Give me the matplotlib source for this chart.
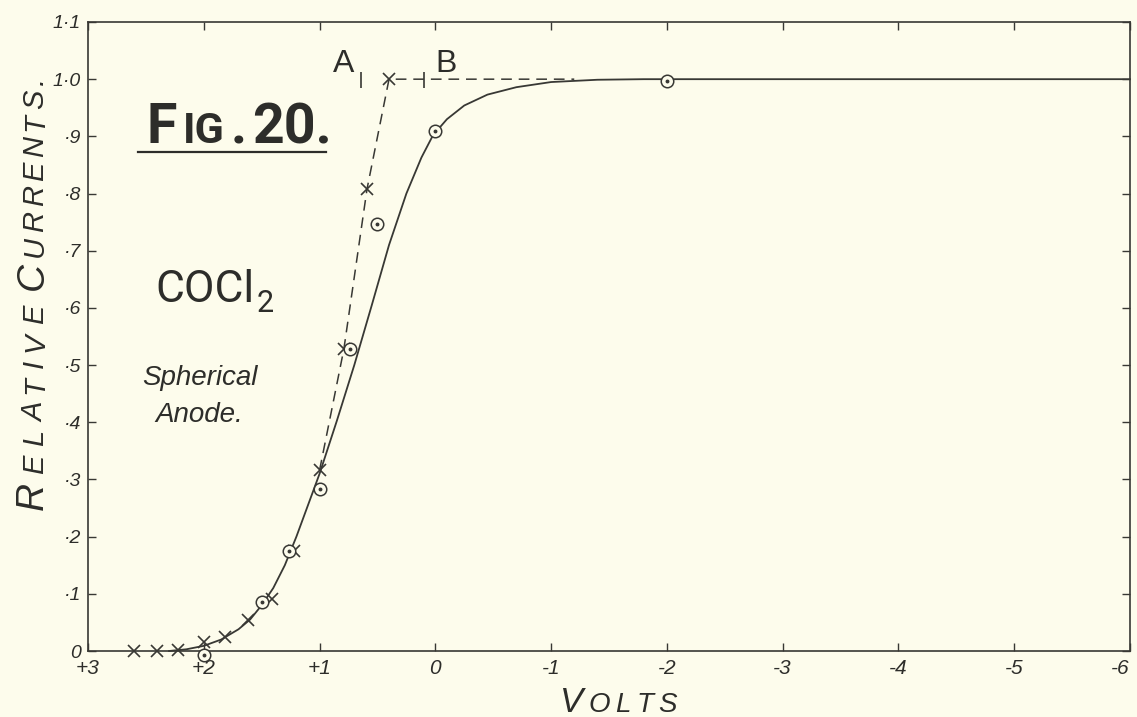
import matplotlib
matplotlib.use("Agg")
import matplotlib.pyplot as plt
from matplotlib.lines import Line2D

# ---------------- data ----------------
volts_cross = [2.6, 2.4, 2.22, 2.0, 1.82, 1.62, 1.41, 1.22, 1.0, 0.79, 0.59, 0.40]
curr_cross = [0.0, 0.0, 0.002, 0.015, 0.025, 0.055, 0.091, 0.175, 0.316, 0.528, 0.808, 1.0]

volts_circle = [2.0, 1.5, 1.26, 1.0, 0.74, 0.5, 0.0, -2.0]
curr_circle = [-0.007, 0.085, 0.175, 0.283, 0.528, 0.747, 0.91, 0.997]

curve_volts = [2.3, 2.15, 2.0, 1.85, 1.7, 1.6, 1.5, 1.4, 1.3, 1.2, 1.1, 1.0, 0.85,
               0.7, 0.55, 0.4, 0.25, 0.12, 0.02, -0.1, -0.25, -0.45, -0.7, -1.0,
               -1.4, -1.8, -6.0]
curve_curr = [0.0, 0.003, 0.009, 0.02, 0.038, 0.055, 0.08, 0.11, 0.15, 0.2, 0.255,
              0.31, 0.403, 0.5, 0.604, 0.71, 0.80, 0.863, 0.902, 0.93, 0.954, 0.973,
              0.986, 0.995, 0.999, 1.0, 1.0]

dash_volts = [1.0, 0.79, 0.59, 0.40, -1.2]
dash_curr = [0.316, 0.528, 0.808, 1.0, 1.0]

mark_volts = [0.64, 0.10]
mark_labels = ["A", "B"]
mark_label_volts = [0.79, -0.095]

x_ticks = [3, 2, 1, 0, -1, -2, -3, -4, -5, -6]
x_ticklabels = ["+3", "+2", "+1", "0", "-1", "-2", "-3", "-4", "-5", "-6"]
y_ticks = [0.0, 0.1, 0.2, 0.3, 0.4, 0.5, 0.6, 0.7, 0.8, 0.9, 1.0, 1.1]
y_ticklabels = ["0", "·1", "·2", "·3", "·4", "·5", "·6", "·7", "·8", "·9", "1·0", "1·1"]

# ---------------- styling ----------------
W, H = 1137, 717
bg = "#fdfcec"
ink = "#2d2d2a"
line_c = "#383834"

fig = plt.figure(figsize=(W / 100, H / 100), dpi=100)
fig.patch.set_facecolor(bg)
ax = fig.add_axes([88 / W, (H - 651) / H, (1130 - 88) / W, (651 - 22) / H])
ax.set_facecolor(bg)
ax.set_xlim(3, -6)
ax.set_ylim(0, 1.1)

for s in ax.spines.values():
    s.set_color(line_c)
    s.set_linewidth(1.2)

ax.set_xticks(x_ticks)
ax.set_xticklabels(x_ticklabels)
ax.set_yticks(y_ticks)
ax.set_yticklabels(y_ticklabels)
ax.tick_params(direction="in", length=6, width=1, color=line_c,
               top=True, right=True, labelcolor=ink)
ax.tick_params(axis="x", pad=6)
ax.tick_params(axis="y", pad=5)
xlabs = ax.get_xticklabels()
for lab in xlabs:
    lab.set_fontfamily(["Liberation Sans", "DejaVu Sans"])
    lab.set_fontstyle("italic")
    lab.set_fontsize(15)
xlabs[-1].set_horizontalalignment("right")
for lab in ax.get_yticklabels():
    lab.set_fontfamily(["Liberation Sans", "DejaVu Sans"])
    lab.set_fontstyle("italic")
    lab.set_fontsize(14)

# curves
ax.plot(curve_volts, curve_curr, color=line_c, lw=1.3, clip_on=False, zorder=3)
ax.plot(dash_volts, dash_curr, color=line_c, lw=1.1, dashes=(7, 4.5), zorder=3)

# markers
ax.plot(volts_cross, curr_cross, ls="none", marker="x", ms=8, mew=1.2,
        color=line_c, clip_on=False, zorder=4)
ax.plot(volts_circle, curr_circle, ls="none", marker="o", ms=9, mew=1.1,
        mfc=bg, mec=line_c, clip_on=False, zorder=5)
ax.plot(volts_circle, curr_circle, ls="none", marker="o", ms=1.8,
        color=line_c, clip_on=False, zorder=6)

# A / B marks
ax.vlines(mark_volts, 0.985, 1.012, color=line_c, lw=1.2, zorder=4)
for xv, lab in zip(mark_label_volts, mark_labels):
    ax.text(xv, 1.012, lab, fontsize=23, ha="center", va="baseline",
            color=ink, family=["Liberation Sans", "DejaVu Sans"])

# ---------------- text helper ----------------
renderer = fig.canvas.get_renderer()


def place_pieces(pieces, sizes, start, end, base, rot=0, min_gap=1.5, **kw):
    """spread text pieces between pixel positions start..end (image coords)."""
    texts, widths = [], []
    for ch, sz in zip(pieces, sizes):
        t = fig.text(0, 0, ch, fontsize=sz, rotation=rot, rotation_mode="anchor",
                     ha="left", va="baseline", color=ink, **kw)
        bb = t.get_window_extent(renderer)
        widths.append(bb.height if rot == 90 else bb.width)
        texts.append(t)
    n = len(texts)
    gap = (abs(end - start) - sum(widths)) / max(n - 1, 1)
    gap = max(gap, min_gap)
    pos = start
    for t, w in zip(texts, widths):
        if rot == 0:
            t.set_position((pos / W, 1 - base / H))
            pos += w + gap
        else:
            t.set_position((base / W, 1 - pos / H))
            pos -= w + gap
    return pos


serif_it = dict(family=["Liberation Sans", "DejaVu Sans"], style="italic")
cond = dict(family=["Roboto", "DejaVu Sans"])

# Y label "RELATIVE CURRENTS."
place_pieces(list("RELATIVE"), [28] + [21] * 7, 510, 305, 43, rot=90, **serif_it)
place_pieces(list("CURRENTS."), [28] + [21] * 8, 290, 77, 43, rot=90, **serif_it)
# X label "VOLTS"
place_pieces(list("VOLTS"), [25, 20, 20, 20, 20], 560, 677, 712, **serif_it)

# FIG. 20.
place_pieces(["F", "IG", ".", "20."], [40, 31, 40, 40], 147, 332, 143,
             weight="bold", **cond)
fig.add_artist(Line2D([138 / W, 326 / W], [1 - 152 / H, 1 - 152 / H],
                      color=ink, lw=1.6))

# COCl2
cocl = fig.text(155 / W, 1 - 302 / H, "COCl", fontsize=32, color=ink, ha="left",
                va="baseline", **cond)
bb = cocl.get_window_extent(renderer)
fig.text((bb.x1 + 3) / W, 1 - 312 / H, "2", fontsize=22, color=ink, ha="left",
         va="baseline", **cond)

# Spherical Anode.
fig.text(142 / W, 1 - 385 / H, "Spherical", fontsize=20, color=ink, ha="left",
         va="baseline", **serif_it)
fig.text(155 / W, 1 - 422 / H, "Anode.", fontsize=20, color=ink, ha="left",
         va="baseline", **serif_it)

fig.savefig("out.png", dpi=100, facecolor=bg)
